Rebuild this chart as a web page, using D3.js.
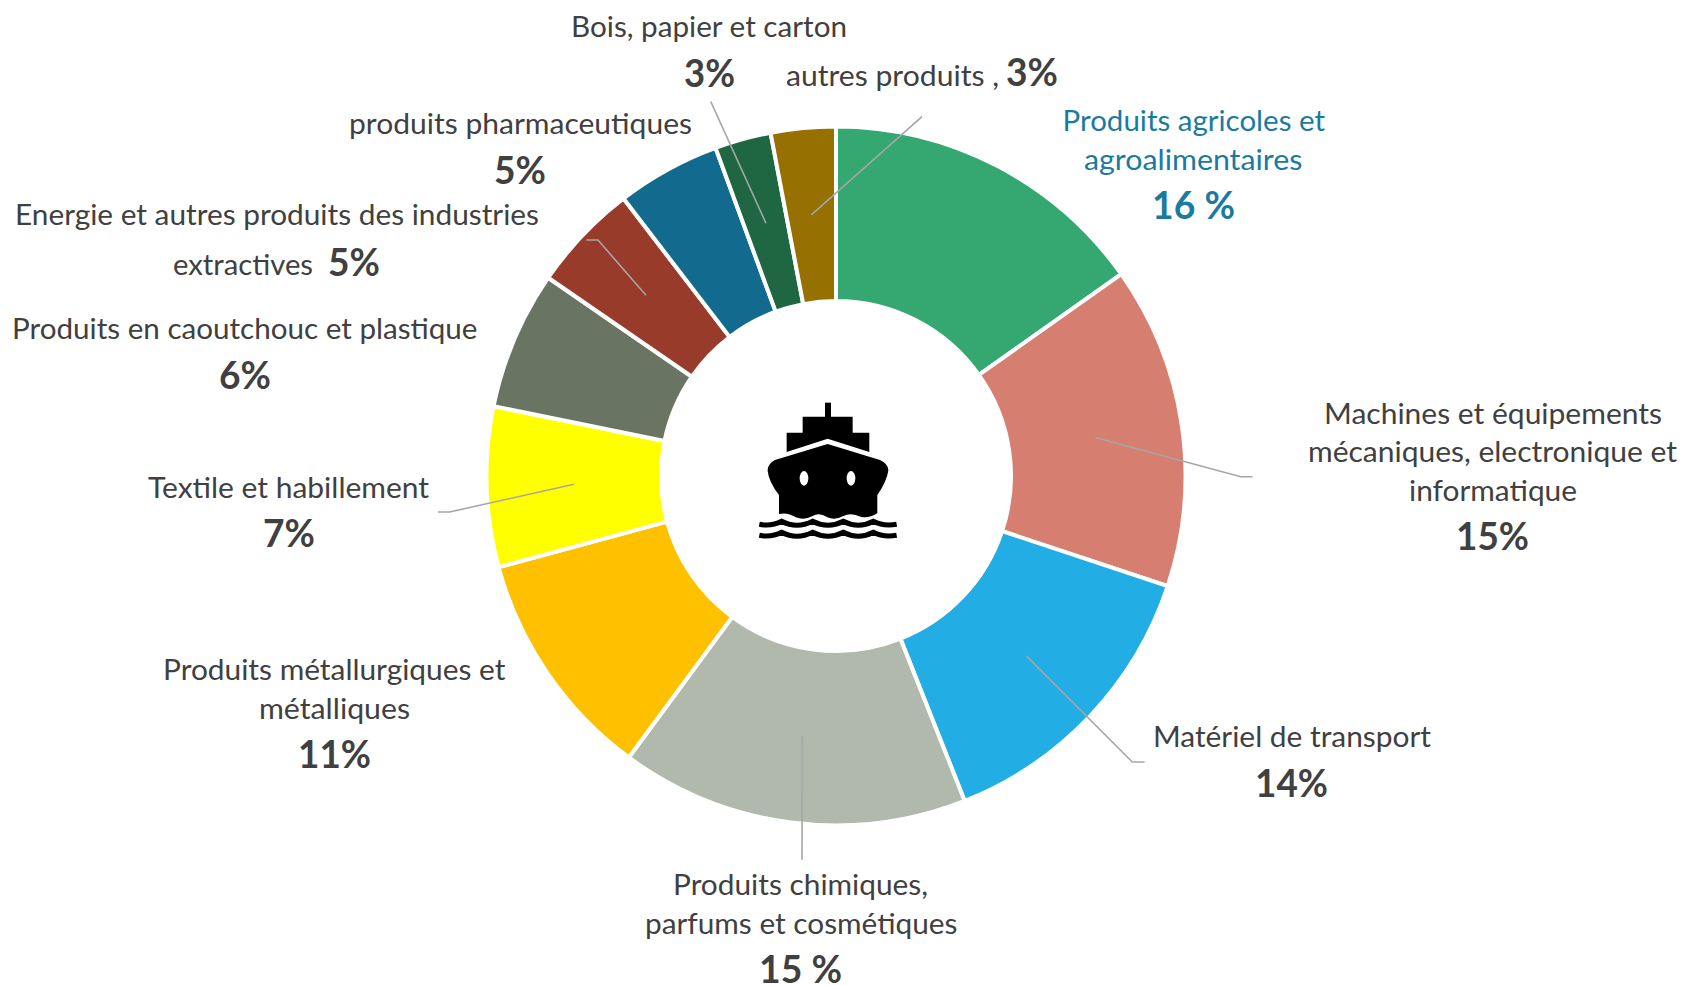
<!DOCTYPE html>
<html>
<head>
<meta charset="utf-8">
<title>Produits transportés</title>
<style type="text/css">
	html, body { margin: 0; padding: 0; background: #fff; }
	svg { display: block; }
	text { font-family: Lato, "Open Sans", sans-serif; }
</style>
<script src="https://d3js.org/d3.v7.min.js"></script>
</head>
<body>
<div id="chart"></div>
<script>

var categories = [
	"Produits agricoles et agroalimentaires",
	"Machines et équipements mécaniques, electronique et informatique",
	"Matériel de transport",
	"Produits chimiques, parfums et cosmétiques",
	"Produits métallurgiques et métalliques",
	"Textile et habillement",
	"Produits en caoutchouc et plastique",
	"Energie et autres produits des industries extractives",
	"produits pharmaceutiques",
	"Bois, papier et carton",
	"autres produits"
];

// slice sizes as measured on the picture, the printed figures are rounded
var sliceShares = [15.2, 14.9, 13.9, 16.1, 10.7, 7.4, 6.4, 5.0, 4.8, 2.6, 3.0];
var shareLabels = ["16 %", "15%", "14%", "15 %", "11%", "7%", "6%", "5%", "5%", "3%", "3%"];

var sliceColors = ["#34a870", "#d67f70", "#23ade5", "#b1b9ac", "#ffc000", "#ffff00",
	"#697562", "#993b2b", "#126a8e", "#1f6642", "#967000"];

// where each leader line ends, null = no leader
var leaderEnds = [
	null,
	[[1240.7, 476.7], [1252.5, 476.7]],
	[[1132.3, 762], [1144.6, 762]],
	[[802, 859.7]],
	null,
	[[449.6, 512], [437.8, 512]],
	null,
	[[598, 240], [586.4, 240]],
	null,
	[[710.8, 101.7]],
	[[922, 116.7]]
];

// text, slice index, left, right, baseline ; bold lines use -1 for text = the share label
var labelLines = [
	["Produits agricoles et", 0, 1062.6, 1325, 130.5],
	["agroalimentaires", 0, 1084, 1302.4, 169.5],
	[-1, 0, 1152, 1235, 218.5],
	["Machines et équipements", 1, 1324, 1662, 423.7],
	["mécaniques, electronique et", 1, 1308, 1677, 462.2],
	["informatique", 1, 1409, 1577, 501],
	[-1, 1, 1456, 1529, 550],
	["Matériel de transport", 2, 1153, 1431, 746.5],
	[-1, 2, 1255, 1328, 797],
	["Produits chimiques,", 3, 673, 928, 895.2],
	["parfums et cosmétiques", 3, 645, 957.4, 934.2],
	[-1, 3, 759, 842, 983],
	["Produits métallurgiques et", 4, 163, 505.4, 680.2],
	["métalliques", 4, 259, 410, 719.2],
	[-1, 4, 298, 371, 768],
	["Textile et habillement", 5, 148, 429, 497.5],
	[-1, 5, 263, 315, 546.5],
	["Produits en caoutchouc et plastique", 6, 12, 477.5, 339],
	[-1, 6, 219, 271, 388.7],
	["Energie et autres produits des industries", 7, 15, 539, 225],
	["extractives", 7, 173, 313, 275],
	[-1, 7, 328, 380, 275.5],
	["produits pharmaceutiques", 8, 349, 692, 134],
	[-1, 8, 494, 546, 184],
	["Bois, papier et carton", 9, 571, 847, 36.5],
	[-1, 9, 684, 735, 86.5],
	["autres produits ,", 10, 786, 999, 85.5],
	[-1, 10, 1006, 1058, 85.5]
];

var width = 1682, height = 985;
var cx = 836, cy = 476;
var outerR = 349.5, innerR = 175;

var svg = d3.select("#chart").append("svg")
	.attr("width", width)
	.attr("height", height);

var pie = d3.pie().sort(null).value(function(d) { return d; });
var arc = d3.arc().innerRadius(innerR).outerRadius(outerR);
var slices = pie(sliceShares);

var ring = svg.append("g").attr("transform", "translate(" + cx + "," + cy + ")");

ring.selectAll("path")
	.data(slices)
	.enter().append("path")
	.attr("d", arc)
	.attr("fill", function(d, i) { return sliceColors[i]; })
	.attr("stroke", "#fff")
	.attr("stroke-width", 4);

// leader lines go from the slice centroid out to the label
var line = d3.line();
svg.append("g").selectAll("path")
	.data(slices.filter(function(d, i) { return leaderEnds[i]; }))
	.enter().append("path")
	.attr("d", function(d) {
		var c = arc.centroid(d);
		return line([[c[0] + cx, c[1] + cy]].concat(leaderEnds[d.index]));
	})
	.attr("fill", "none")
	.attr("stroke", "#a6a6a6")
	.attr("stroke-width", 1.6);

svg.append("g").selectAll("text")
	.data(labelLines)
	.enter().append("text")
	.attr("x", function(d) { return d[2]; })
	.attr("y", function(d) { return d[4]; })
	.attr("textLength", function(d) { return d[3] - d[2]; })
	.attr("lengthAdjust", "spacingAndGlyphs")
	.attr("font-size", function(d) { return d[0] === -1 ? 39 : 29; })
	.attr("font-weight", function(d) { return d[0] === -1 ? 700 : 400; })
	.attr("fill", function(d) { return d[1] === 0 ? "#1b7a9f" : "#404040"; })
	.text(function(d) { return d[0] === -1 ? shareLabels[d[1]] : d[0]; });

// ship icon, drawn on a 3x grid
var ship = svg.append("g").attr("transform", "translate(700,370) scale(0.3333)");
ship.append("rect").attr("x", 375).attr("y", 98).attr("width", 18).attr("height", 50).attr("fill", "#000");
ship.append("path")
	.attr("d", "M308,140H458V188H508V246L383,206L260,246V188H308Z")
	.attr("fill", "#000");
ship.append("path")
	.attr("d", "M383,222L540,270Q566,282 565,302Q560,335 532,375V430Q505,446 482,440Q452,426 430,438Q405,452 382,442Q358,426 338,438Q312,452 288,442Q262,426 237,432V375Q206,335 203,302Q202,282 225,270Z")
	.attr("fill", "#000");
ship.selectAll("ellipse")
	.data([312, 453])
	.enter().append("ellipse")
	.attr("cx", function(d) { return d; })
	.attr("cy", 325)
	.attr("rx", 13)
	.attr("ry", 22)
	.attr("fill", "#fff");
ship.selectAll("path.wave")
	.data([0, 33])
	.enter().append("path")
	.attr("class", "wave")
	.attr("transform", function(d) { return "translate(0," + d + ")"; })
	.attr("d", "M178,463Q215,470 245,454Q290,478 338,454Q384,478 430,454Q475,478 520,454Q550,470 590,463")
	.attr("fill", "none")
	.attr("stroke", "#000")
	.attr("stroke-width", 15);

</script>
</body>
</html>
